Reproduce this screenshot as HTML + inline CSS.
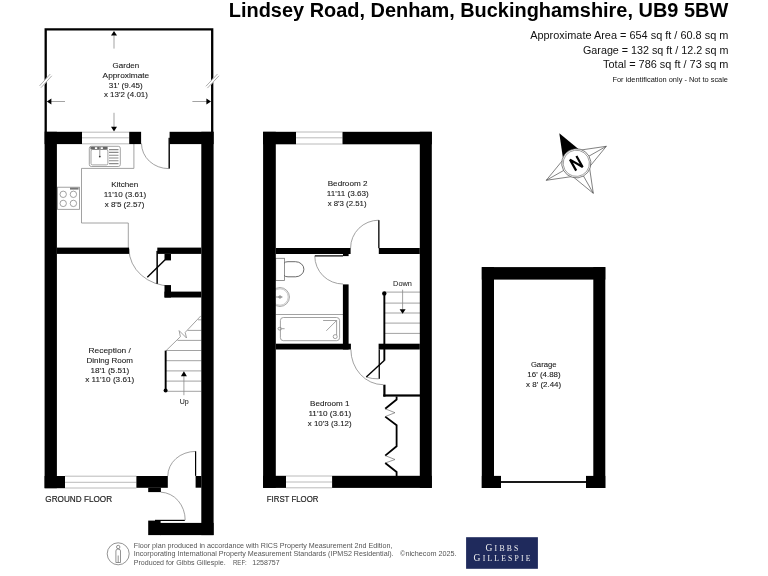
<!DOCTYPE html>
<html><head><meta charset="utf-8"><style>
html,body{margin:0;padding:0;background:#fff;width:768px;height:576px;overflow:hidden}
svg{display:block;will-change:transform}
text{font-family:"Liberation Sans",sans-serif}
.lbl text{font-size:8.1px;fill:#1a1a1a;stroke:#1a1a1a;stroke-width:0.1px}
</style></head><body>
<svg width="768" height="576" viewBox="0 0 768 576">
<rect width="768" height="576" fill="#fff"/>

<!-- ===== Header ===== -->
<text x="228.8" y="17.1" font-size="20" font-weight="bold" fill="#000" textLength="499.4" lengthAdjust="spacingAndGlyphs">Lindsey Road, Denham, Buckinghamshire, UB9 5BW</text>
<g fill="#111" font-size="10.2" text-anchor="end">
<text x="728.4" y="38.6" textLength="198.2" lengthAdjust="spacingAndGlyphs">Approximate Area = 654 sq ft / 60.8 sq m</text>
<text x="728.4" y="53.5" textLength="145.4" lengthAdjust="spacingAndGlyphs">Garage = 132 sq ft / 12.2 sq m</text>
<text x="728.4" y="67.7" textLength="125.3" lengthAdjust="spacingAndGlyphs">Total = 786 sq ft / 73 sq m</text>
</g>
<text x="728" y="81.7" font-size="6.9" fill="#111" text-anchor="end" textLength="115.6" lengthAdjust="spacingAndGlyphs">For identification only - Not to scale</text>

<!-- ===== Garden ===== -->
<path d="M45.7,132 V29.3 H212.2 V132" fill="none" stroke="#000" stroke-width="2.3"/>
<!-- break marks -->
<g>
<path d="M39.8,87.4 L51.5,74.4" stroke="#fff" stroke-width="3"/>
<path d="M39.5,85.9 L50.3,74 M41,87.7 L51.8,75.8" stroke="#999" stroke-width="0.8"/>
<path d="M206.2,87.7 L218.8,74.4" stroke="#fff" stroke-width="3"/>
<path d="M205.9,86.3 L217.5,74 M207.4,88.1 L219,75.8" stroke="#999" stroke-width="0.8"/>
</g>
<!-- arrows -->
<g stroke="#999" stroke-width="0.9">
<path d="M114,35.4 V48.6"/>
<path d="M114,112.8 V127"/>
<path d="M50.8,101.5 H65"/>
<path d="M192.4,101.5 H207"/>
</g>
<g fill="#000">
<path d="M114,31 L117,35.6 L111,35.6Z"/>
<path d="M114,131.4 L117,126.8 L111,126.8Z"/>
<path d="M46.8,101.5 L51.4,98.5 L51.4,104.5Z"/>
<path d="M211,101.5 L206.4,98.5 L206.4,104.5Z"/>
</g>
<g class="lbl" text-anchor="middle">
<text x="125.9" y="67.9" textLength="26.6" lengthAdjust="spacingAndGlyphs">Garden</text>
<text x="125.9" y="77.9" textLength="46.6" lengthAdjust="spacingAndGlyphs">Approximate</text>
<text x="125.7" y="87.6" textLength="33.8" lengthAdjust="spacingAndGlyphs">31' (9.45)</text>
<text x="125.9" y="97.3" textLength="44" lengthAdjust="spacingAndGlyphs">x 13'2 (4.01)</text>
</g>

<!-- ===== Ground floor fixtures (grey) ===== -->
<g fill="none" stroke="#8a8a8a" stroke-width="0.8">
<!-- top window -->
<path d="M82,132.2 H129.2 M82,137.8 H129.2 M82,143.8 H129.2" stroke="#a8a8a8"/>
<!-- bottom window -->
<path d="M65,476.2 H136.4 M65,482.3 H136.4 M65,488 H136.4" stroke="#a8a8a8"/>
<!-- counter -->
<path d="M133.9,144 V168.4 H81.5 V223 H128.3 V248"/>
<!-- sink -->
<rect x="89.3" y="146.3" width="31" height="20.2" rx="2"/>
<rect x="91" y="149.5" width="16.9" height="15.4" rx="1.5"/>
<path d="M109,149.6 H118.5 M109,152.4 H118.5 M109,155.2 H118.5 M109,158 H118.5 M109,160.8 H118.5 M109,163.6 H118.5" stroke-width="1.1"/>
<!-- hob -->
<rect x="57.4" y="187.2" width="22.1" height="22.1"/>
<circle cx="63.2" cy="194.3" r="3.2"/><circle cx="73.4" cy="194.3" r="3.2"/>
<circle cx="63.2" cy="203.4" r="3.2"/><circle cx="73.4" cy="203.4" r="3.2"/>
<!-- back door arc -->
<path d="M141.5,143.5 A27.1,25.1 0 0 0 168.6,168.6"/>
<!-- kitchen door arc -->
<path d="M129,249 A42,37 0 0 0 171,286"/>
<!-- stairs -->
<path d="M198,319.8 H201.5 M187.5,330.4 H201.5 M177.5,340.4 H201.5 M166,350.5 H201.5 M166,360.7 H201.5 M166,370.9 H201.5 M166,381.1 H201.5 M166,391.3 H201.5"/>
<path d="M166.1,350.6 L180.4,336.7 L179.1,330.6 L186.5,338 L185.2,332.4 L200.8,315.9"/>
<!-- up arrow shaft -->
<path d="M183.9,376 V395.2"/>
<!-- front door arc -->
<path d="M167.8,476 A27.8,24.6 0 0 1 195.6,451.4"/>
<!-- porch door arc -->
<path d="M160.9,492.2 A25,28 0 0 1 185.2,520.2"/>
</g>
<g fill="#000">
<!-- tap -->
<path d="M90.4,146.7 H107.6 V149.4 H90.4Z" fill="#666"/>
<path d="M94.9,147.2 h2.3 v1.8 h-2.3z M100.6,147.2 h2.3 v1.8 h-2.3z" fill="#fff"/>
<path d="M99.3,147 h1 v9.5 h-1z" fill="#999"/>
<circle cx="99.8" cy="156.6" r="0.9" fill="#333"/>
<!-- hob control strip -->
<path d="M70,187.6 H78.6 V189.6 H70Z" fill="#777"/>
<!-- up arrow head -->
<path d="M183.9,371.3 L186.9,376.2 L180.9,376.2Z"/>
<!-- handrail -->
<rect x="164.7" y="350.6" width="1.9" height="39.8"/>
<circle cx="165.6" cy="390.4" r="2"/>
<!-- cupboard door & diagonal -->
<rect x="156.4" y="250.9" width="1.5" height="32.9"/>
<path d="M165.1,259.7 L147.3,277.3" stroke="#000" stroke-width="1.4"/>
<rect x="168.5" y="137.8" width="1.4" height="30.8"/>
<!-- front door leaf -->
<rect x="195" y="451.3" width="1.2" height="24.6"/>
<!-- porch door leaf -->
<rect x="155" y="519.8" width="29.8" height="1.2"/>
</g>

<!-- ===== Ground floor walls ===== -->
<g fill="#000">
<rect x="44.6" y="131.8" width="37.4" height="12.3"/>
<rect x="129.2" y="131.8" width="11.9" height="12.3"/>
<rect x="169.6" y="131.8" width="44" height="12.3"/>
<rect x="44.6" y="131.8" width="12.3" height="356.4"/>
<rect x="201.3" y="131.8" width="12.3" height="403.3"/>
<rect x="44.6" y="476" width="20.4" height="12.2"/>
<rect x="136.4" y="476" width="31.4" height="11.8"/>
<rect x="148.2" y="487.7" width="12.7" height="4.4"/>
<rect x="195.6" y="476" width="5.8" height="11.7"/>
<rect x="148.2" y="520.6" width="12.4" height="14.5"/>
<rect x="160" y="522.9" width="53.6" height="12.2"/>
<!-- kitchen/reception wall -->
<rect x="56.9" y="247.6" width="72.2" height="6.3"/>
<rect x="157.3" y="247.6" width="44" height="6.3"/>
<rect x="164.5" y="253.9" width="6.5" height="6.5"/>
<rect x="164.5" y="285.1" width="6.5" height="12.4"/>
<rect x="164.5" y="291.6" width="36.8" height="5.9"/>
</g>

<!-- Ground floor labels -->
<g class="lbl" text-anchor="middle">
<text x="124.85" y="186.8" textLength="27" lengthAdjust="spacingAndGlyphs">Kitchen</text>
<text x="125" y="196.9" textLength="42.3" lengthAdjust="spacingAndGlyphs">11'10 (3.61)</text>
<text x="124.6" y="206.8" textLength="39.8" lengthAdjust="spacingAndGlyphs">x 8'5 (2.57)</text>
<text x="109.7" y="352.9" textLength="42.3" lengthAdjust="spacingAndGlyphs">Reception /</text>
<text x="109.7" y="362.9" textLength="46.3" lengthAdjust="spacingAndGlyphs">Dining Room</text>
<text x="109.85" y="372.8" textLength="38.9" lengthAdjust="spacingAndGlyphs">18'1 (5.51)</text>
<text x="109.7" y="382.3" textLength="49.1" lengthAdjust="spacingAndGlyphs">x 11'10 (3.61)</text>
<text x="184.15" y="403.7" style="font-size:7.6px;stroke-width:0.05px" textLength="9" lengthAdjust="spacingAndGlyphs">Up</text>
</g>
<text x="45.3" y="501.8" font-size="9.2" fill="#1e1e1e" stroke="#1e1e1e" stroke-width="0.18" textLength="66.8" lengthAdjust="spacingAndGlyphs">GROUND FLOOR</text>

<!-- ===== First floor fixtures ===== -->
<g fill="none" stroke="#8a8a8a" stroke-width="0.8">
<path d="M296,132 H342.5 M296,137.8 H342.5 M296,144 H342.5" stroke="#a8a8a8"/>
<path d="M286,476 H332.1 M286,482 H332.1 M286,487.8 H332.1" stroke="#a8a8a8"/>
<!-- stairs -->
<path d="M384.3,292.1 H420 M384.3,303.1 H420 M384.3,313 H420 M384.3,323.1 H420 M384.3,333.4 H420"/>
<path d="M402.6,289.7 V309.5"/>
<!-- door arcs -->
<path d="M350.6,248 A28.2,27.8 0 0 1 378.8,220.2"/>
<path d="M314.8,256 A28.2,28 0 0 0 343,284"/>
<path d="M350.9,349.5 A32.3,35.2 0 0 0 383.2,384.7"/>
<path d="M366.3,377.1 Q372,379 378.6,378.8"/>
<!-- toilet -->
<rect x="275.7" y="258.3" width="8.7" height="22.1" stroke="#777"/>
<path d="M284.4,263 Q285,261.7 288,261.7 H295.5 A8.4,7.55 0 0 1 295.5,276.8 H288 Q285,276.8 284.4,275.5" stroke="#444"/>
<!-- basin -->
<circle cx="280" cy="297" r="9.4"/>
<circle cx="280" cy="297" r="8.2" stroke="#bbb"/>
<path d="M276,297 H282.5" stroke="#777"/><circle cx="280" cy="297" r="1.2" stroke="#777"/>
<!-- bath -->
<path d="M275.7,314.5 H343"/>
<rect x="280.4" y="317.5" width="59.2" height="23.2" rx="3"/>
<path d="M323.1,320.5 H336.6 V335 M336.6,320.5 L326.3,330.8"/>
<circle cx="335.2" cy="336.6" r="2"/>
<ellipse cx="279.8" cy="328.7" rx="1.8" ry="1.4"/><path d="M281.6,328.7 H284.6"/>
</g>
<g fill="#000">
<rect x="383.4" y="293.4" width="1.9" height="67.2"/>
<circle cx="384.3" cy="293.4" r="2.2"/>
<path d="M402.6,313.8 L405.6,309.2 L399.6,309.2Z"/>
<rect x="378.2" y="220.2" width="1.3" height="28"/>
<rect x="314.8" y="255.3" width="28.2" height="1.2"/>
<rect x="378.6" y="349.5" width="1.3" height="29.3"/>
<path d="M384.5,360.2 L366.3,377.1" stroke="#000" stroke-width="1.4"/>
<path d="M396.6,396.6 V399.5 L385.2,408.8 M385.2,416.6 L396.6,425.2 V446.3 L385.2,455.6 M385.2,463 L396.6,472 V476" fill="none" stroke="#000" stroke-width="1.8"/>
<path d="M385.2,408.8 L395,412.7 L385.2,416.6 M385.2,455.6 L395,459.5 L385.2,463" fill="none" stroke="#555" stroke-width="0.6"/>
</g>

<!-- ===== First floor walls ===== -->
<g fill="#000">
<rect x="263.1" y="131.8" width="32.9" height="12.5"/>
<rect x="342.5" y="131.8" width="89.3" height="12.5"/>
<rect x="263.1" y="131.8" width="12.7" height="356.1"/>
<rect x="419.8" y="131.8" width="12" height="356.1"/>
<rect x="263.1" y="475.8" width="22.9" height="12.1"/>
<rect x="332.1" y="475.8" width="99.7" height="12.1"/>
<rect x="275.8" y="248" width="74.8" height="6"/>
<rect x="343" y="253.9" width="5.6" height="2.2"/>
<rect x="378.8" y="248" width="41" height="6"/>
<rect x="342.9" y="284.4" width="5.7" height="65.1"/>
<rect x="275.8" y="343.7" width="75.1" height="5.8"/>
<rect x="378.6" y="343.7" width="41.2" height="5.8"/>
<rect x="383.3" y="384.7" width="2.2" height="11.9"/>
<rect x="383.3" y="394.4" width="36.7" height="2.2"/>
</g>
<g class="lbl" text-anchor="middle">
<text x="347.6" y="185.8" textLength="39.8" lengthAdjust="spacingAndGlyphs">Bedroom 2</text>
<text x="347.7" y="195.7" textLength="41.9" lengthAdjust="spacingAndGlyphs">11'11 (3.63)</text>
<text x="347.1" y="205.5" textLength="38.9" lengthAdjust="spacingAndGlyphs">x 8'3 (2.51)</text>
<text x="329.8" y="406.4" textLength="39.5" lengthAdjust="spacingAndGlyphs">Bedroom 1</text>
<text x="329.8" y="416.2" textLength="42.7" lengthAdjust="spacingAndGlyphs">11'10 (3.61)</text>
<text x="329.7" y="425.9" textLength="43.8" lengthAdjust="spacingAndGlyphs">x 10'3 (3.12)</text>
<text x="402.5" y="285.6" style="font-size:6.8px;stroke-width:0.03px" textLength="18.8" lengthAdjust="spacingAndGlyphs">Down</text>
</g>
<text x="266.8" y="501.8" font-size="9.2" fill="#1e1e1e" stroke="#1e1e1e" stroke-width="0.18" textLength="51.6" lengthAdjust="spacingAndGlyphs">FIRST FLOOR</text>

<!-- ===== Garage ===== -->
<g fill="#000">
<rect x="481.8" y="267.1" width="123.5" height="12.5"/>
<rect x="481.8" y="267.1" width="12.2" height="220.9"/>
<rect x="593.3" y="267.1" width="12" height="220.9"/>
<rect x="481.8" y="475.9" width="19.2" height="12.1"/>
<rect x="586" y="475.9" width="19.3" height="12.1"/>
<rect x="501" y="481.1" width="85" height="1.8"/>
</g>
<g class="lbl" text-anchor="middle">
<text x="543.7" y="366.9" textLength="25.6" lengthAdjust="spacingAndGlyphs">Garage</text>
<text x="544" y="376.9" textLength="33.4" lengthAdjust="spacingAndGlyphs">16' (4.88)</text>
<text x="543.6" y="386.8" textLength="35.1" lengthAdjust="spacingAndGlyphs">x 8' (2.44)</text>
</g>

<!-- ===== Compass ===== -->
<g transform="translate(576.3,163.3) rotate(-29.5)">
<path d="M0,-34.5 L-9.5,-10 L0,0 L9.5,-10Z" fill="#000"/>
<g fill="none" stroke="#444" stroke-width="0.6">
<path d="M34.5,0 L10,-9.5 M34.5,0 L10,9.5 M34.5,0 L0,0"/>
<path d="M0,34.5 L-9.5,10 M0,34.5 L9.5,10 M0,34.5 L0,0"/>
<path d="M-34.5,0 L-10,-9.5 M-34.5,0 L-10,9.5 M-34.5,0 L0,0"/>
</g>
<circle r="14.6" fill="#fff" stroke="#444" stroke-width="0.6"/>
<circle r="13.1" fill="none" stroke="#555" stroke-width="0.5"/>
<path d="M-3.7,6.3 V-6.3 L3.7,6.3 V-6.3" fill="none" stroke="#000" stroke-width="2.2" stroke-linejoin="miter" stroke-miterlimit="2"/>
</g>

<!-- ===== Footer ===== -->
<g fill="none" stroke="#666" stroke-width="0.7">
<circle cx="118.2" cy="553.8" r="11"/>
<circle cx="118.2" cy="547" r="1.7"/>
<path d="M115.9,562.5 V551 Q115.9,549.2 117.6,549.2 H118.8 Q120.5,549.2 120.5,551 V562.5 Z M118.2,555.5 V562.5"/>
</g>
<g fill="#555" font-size="7.1">
<text x="133.8" y="547.8" textLength="258.6" lengthAdjust="spacingAndGlyphs">Floor plan produced in accordance with RICS Property Measurement 2nd Edition,</text>
<text x="133.8" y="556.4" textLength="259.8" lengthAdjust="spacingAndGlyphs">Incorporating International Property Measurement Standards (IPMS2 Residential).</text>
<text x="400.1" y="556.4" textLength="56.5" lengthAdjust="spacingAndGlyphs">&#169;nichecom 2025.</text>
<text x="133.8" y="565" textLength="91.8" lengthAdjust="spacingAndGlyphs">Produced for Gibbs Gillespie.</text>
<text x="233" y="565" textLength="13.8" lengthAdjust="spacingAndGlyphs">REF:</text>
<text x="252.3" y="565" textLength="27.4" lengthAdjust="spacingAndGlyphs">1258757</text>
</g>
<rect x="466.1" y="537.2" width="71.8" height="31.6" fill="#1f2a5c"/>
<g fill="#f2f2f2" style="font-family:'Liberation Serif',serif">
<text style="font-family:'Liberation Serif',serif" x="485.5" y="551" textLength="32.9" lengthAdjust="spacing"><tspan style="font-size:9.5px">G</tspan><tspan style="font-size:7.7px">IBBS</tspan></text>
<text style="font-family:'Liberation Serif',serif" x="473.6" y="560.7" textLength="56.9" lengthAdjust="spacing"><tspan style="font-size:9.5px">G</tspan><tspan style="font-size:7.7px">ILLESPIE</tspan></text>
</g>
</svg>
</body></html>
